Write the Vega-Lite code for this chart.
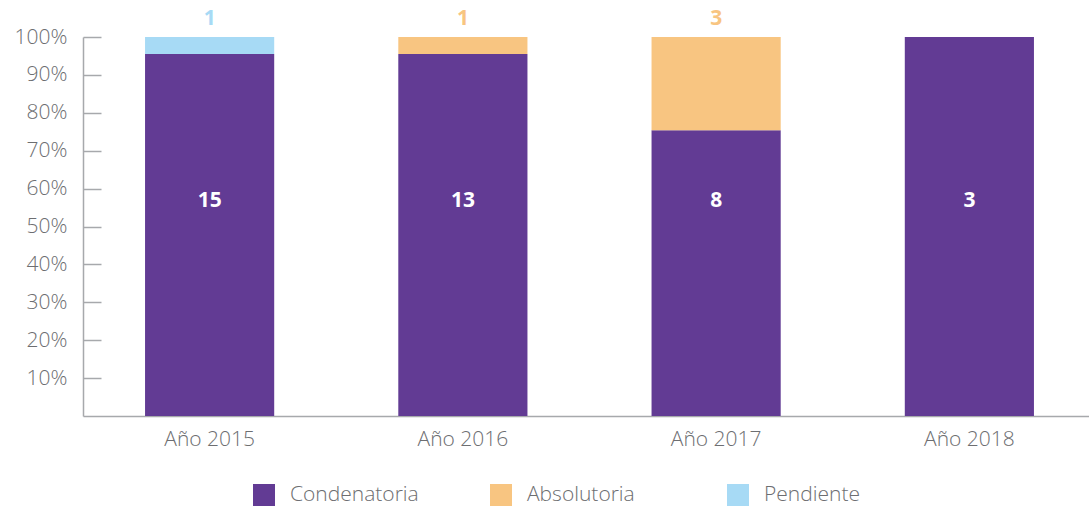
{
  "$schema": "https://vega.github.io/schema/vega-lite/v6.json",
  "width": 1013,
  "height": 379,
  "autosize": "none",
  "padding": {"left": 83, "top": 37, "right": 0, "bottom": 92},
  "background": "white",
  "config": {
    "view": {"stroke": null},
    "font": "Open Sans",
    "legend": {"padding": 0}
  },
  "data": {
    "values": [
      {"year": "Año 2015", "category": "Condenatoria", "pct": 0.955, "count": 15},
      {"year": "Año 2015", "category": "Pendiente", "pct": 0.045, "count": 1},
      {"year": "Año 2016", "category": "Condenatoria", "pct": 0.955, "count": 13},
      {"year": "Año 2016", "category": "Absolutoria", "pct": 0.045, "count": 1},
      {"year": "Año 2017", "category": "Condenatoria", "pct": 0.754, "count": 8},
      {"year": "Año 2017", "category": "Absolutoria", "pct": 0.246, "count": 3},
      {"year": "Año 2018", "category": "Condenatoria", "pct": 1.0, "count": 3}
    ]
  },
  "encoding": {
    "x": {
      "field": "year",
      "type": "nominal",
      "sort": ["Año 2015", "Año 2016", "Año 2017", "Año 2018"],
      "scale": {"paddingInner": 0.49, "paddingOuter": 0.245},
      "axis": {
        "title": null,
        "labelAngle": 0,
        "ticks": false,
        "domainColor": "#a7a9ac",
        "domainWidth": 1.5,
        "labelPadding": 12,
        "labelFontSize": 21,
        "labelFontWeight": 300,
        "labelColor": "#6d6e71",
        "labelFont": "Open Sans"
      }
    }
  },
  "layer": [
    {
      "mark": {"type": "bar"},
      "encoding": {
        "y": {
          "field": "pct",
          "type": "quantitative",
          "stack": "zero",
          "scale": {"domain": [0, 1], "nice": false},
          "axis": {
            "title": null,
            "values": [0.1, 0.2, 0.3, 0.4, 0.5, 0.6, 0.7, 0.8, 0.9, 1.0],
            "format": ".0%",
            "grid": false,
            "domainColor": "#a7a9ac",
            "domainWidth": 1.5,
            "tickColor": "#a7a9ac",
            "tickWidth": 1.5,
            "tickSize": -18,
            "labelPadding": 34,
            "labelFontSize": 21,
            "labelFontWeight": 300,
            "labelColor": "#6d6e71"
          }
        },
        "order": {"field": "pct", "sort": "descending"},
        "color": {
          "field": "category",
          "type": "nominal",
          "sort": ["Condenatoria", "Absolutoria", "Pendiente"],
          "scale": {
            "domain": ["Condenatoria", "Absolutoria", "Pendiente"],
            "range": ["#623B94", "#F8C581", "#A7DAF5"]
          },
          "legend": {
            "title": null,
            "orient": "none",
            "direction": "horizontal",
            "columns": 3,
            "gridAlign": "all",
            "columnPadding": 71,
            "legendX": 170,
            "legendY": 447,
            "symbolType": "square",
            "symbolSize": 484,
            "symbolStrokeWidth": 0,
            "symbolOpacity": 1,
            "labelFontSize": 21,
            "labelFontWeight": 300,
            "labelColor": "#6d6e71",
            "labelOffset": 15,
            "labelLimit": 300
          }
        }
      }
    },
    {
      "transform": [{"filter": "datum.category === 'Condenatoria'"}],
      "mark": {"type": "text", "color": "white", "fontWeight": "bold", "fontSize": 21, "baseline": "middle"},
      "encoding": {
        "y": {"datum": 0.567},
        "text": {"field": "count", "type": "quantitative"}
      }
    },
    {
      "transform": [{"filter": "datum.category !== 'Condenatoria'"}],
      "mark": {"type": "text", "fontWeight": "bold", "fontSize": 21, "baseline": "middle", "dy": -18},
      "encoding": {
        "y": {"datum": 1},
        "text": {"field": "count", "type": "quantitative"},
        "color": {"field": "category", "type": "nominal", "legend": null}
      }
    }
  ]
}
